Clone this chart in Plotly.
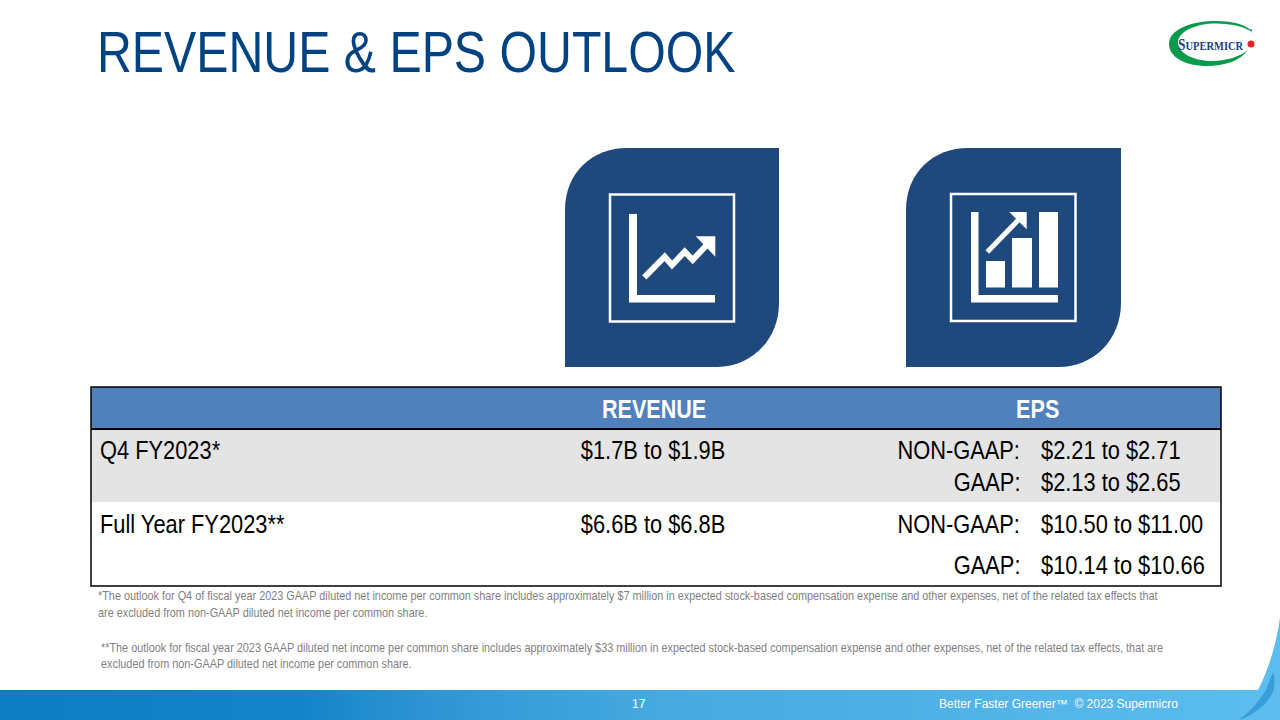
#!/usr/bin/env python3
"""Supermicro revenue & EPS outlook slide"""

import plotly.graph_objects as go

# Table content
col_headers = ['REVENUE', 'EPS']
row_labels = ['Q4 FY2023*', 'Full Year FY2023**']
revenue = ['$1.7B to $1.9B', '$6.6B to $6.8B']
eps_labels = ['NON-GAAP:', 'GAAP:', 'NON-GAAP:', 'GAAP:']
eps_values = ['$2.21 to $2.71', '$2.13 to $2.65', '$10.50 to $11.00', '$10.14 to $10.66']
footnotes = [
    '*The outlook for Q4 of fiscal year 2023 GAAP diluted net income per common share includes approximately $7 million in expected stock-based compensation expense and other expenses, net of the related tax effects that',
    'are excluded from non-GAAP diluted net income per common share.',
    '**The outlook for fiscal year 2023 GAAP diluted net income per common share includes approximately $33 million in expected stock-based compensation expense and other expenses, net of the related tax effects, that are',
    'excluded from non-GAAP diluted net income per common share.',
]

NAVY = '#1f497d'
# no narrow face installed, so these get squeezed horizontally in post_script
NARROW = 'Liberation Sans Narrow, Liberation Sans, Arial'
SQUEEZE_JS = """
document.body.style.margin = '0';
document.querySelectorAll('text.annotation-text').forEach(function (el) {
    if (!el.style.fontFamily.includes('Narrow')) return;
    var b = el.getBBox();
    var a = el.getAttribute('text-anchor');
    var px = a === 'start' ? b.x : (a === 'end' ? b.x + b.width : b.x + b.width / 2);
    el.setAttribute('transform', 'translate(' + px + ',0) scale(0.84,1) translate(' + (-px) + ',0)');
});
"""

fig = go.Figure()

# Footer band gradient
band_x = list(range(0, 1281, 8))
fig.add_trace(go.Heatmap(
    x=band_x,
    y=[690, 720],
    z=[band_x[:-1]],
    zmin=0, zmax=1280,
    colorscale=[[0, '#0c7dc1'], [0.23, '#1384c8'], [0.33, '#2f94d3'], [0.5, '#45a9df'], [1, '#5cbdee']],
    showscale=False,
    hoverinfo='skip',
))

shapes = []


def box(x0, y0, x1, y1, fill, line=None, width=0):
    shapes.append(dict(type='rect', x0=x0, y0=y0, x1=x1, y1=y1, fillcolor=fill,
                       line=dict(color=line or 'rgba(0,0,0,0)', width=width), layer='below'))


def path(d, fill, **kw):
    shapes.append(dict(type='path', path=d, fillcolor=fill, line=dict(width=0), layer='above', **kw))


def line(d, width):
    shapes.append(dict(type='path', path=d, line=dict(color='white', width=width), layer='above'))


def text(x, y, s, size, color='black', anchor='left', font=NARROW):
    fig.add_annotation(x=x, y=y, text=s, showarrow=False, xanchor=anchor, yanchor='middle', align=anchor,
                       font=dict(family=font, size=size, color=color))


# Table bands
box(91, 387, 1221, 428, '#4f81bd')
box(91, 430, 1221, 502, '#e4e4e4')
box(91, 387, 1221, 586, 'rgba(0,0,0,0)', 'black', 1.5)
box(91, 428, 1221, 430, 'black')

# Icon tiles
for x0, x1 in [(565, 779), (906, 1121)]:
    path(f'M{x0},367 L{x0},210 C{x0},172 {x0 + 28},148 {x0 + 62},148 L{x1},148 '
         f'L{x1},303 C{x1},340 {x1 - 28},367 {x1 - 62},367 Z', NAVY)

# Revenue icon
shapes.append(dict(type='rect', x0=610, y0=194.5, x1=734, y1=321.5, line=dict(color='white', width=2.5), layer='above'))
path('M629,214 L637,214 L637,295 L715,295 L715,302.5 L629,302.5 Z', 'white')
line('M644.3,277.3 L664.7,256.7 L672,265 L684.7,251.7 L692.7,260 L706.7,245', 6)
path('M695.7,236.3 L715.3,236.3 L715.3,256.7 Z', 'white')

# EPS icon
shapes.append(dict(type='rect', x0=951, y0=194, x1=1075.5, y1=321, line=dict(color='white', width=2.5), layer='above'))
path('M971,212 L978.5,212 L978.5,295 L1058,295 L1058,302.5 L971,302.5 Z', 'white')
path('M986,261 L1005,261 L1005,287.5 L986,287.5 Z', 'white')
path('M1012,238 L1032,238 L1032,287.5 L1012,287.5 Z', 'white')
path('M1039,212 L1058,212 L1058,287.5 L1039,287.5 Z', 'white')
line('M987.3,252 L1018.3,220', 5)
path('M1009.3,212 L1026.7,212 L1026.7,229.3 Z', 'white')

# Logo
path('M1169,44 C1169,29 1192,21 1216,21 C1234,21 1248,25 1253,33 C1246,27 1232,23.5 1216,23.5 '
     'C1196,23.5 1180,31 1178,41 C1177,52 1192,61 1212,61 C1226,61 1239,57 1248,50 '
     'C1240,61 1224,66 1207,66 C1185,66 1169,57 1169,44 Z', '#0a9a4b')
shapes.append(dict(type='circle', x0=1247.5, y0=40.5, x1=1254.5, y1=47.5, fillcolor='#e0242a', line=dict(width=0), layer='above'))
shapes.append(dict(type='circle', x0=1250, y0=29, x1=1252, y1=31, fillcolor='#3f6fb0', line=dict(width=0), layer='above'))
text(1176, 44, '<b><span style="font-size:16px">S</span>UPERMICR</b>', 12.5, '#1b3f83',
     font='Liberation Serif Narrow, Liberation Serif')

# Corner swoosh
path('M1280,618 C1274,660 1258,700 1236,720 L1280,720 Z', '#5cbdee')
path('M1266,690 C1258,703 1248,714 1238,720 C1252,716 1266,706 1273,692 C1275,684 1275,678 1273,672 Z',
     '#1f88c9', opacity=0.6)

# Title
text(95, 52, 'REVENUE &amp; EPS OUTLOOK', 57.5, '#004380')

# Table text
text(654, 409, f'<b>{col_headers[0]}</b>', 25.7, 'white', 'center')
text(1037, 409, f'<b>{col_headers[1]}</b>', 25.7, 'white', 'center')
for label, rev, y in zip(row_labels, revenue, [450, 524]):
    text(98, y, label, 26)
    text(653, y, rev, 26, anchor='center')
for label, value, y in zip(eps_labels, eps_values, [450, 482, 524, 565]):
    text(1022, y, label, 26, anchor='right')
    text(1039, y, value, 26)

# Footnotes
for note, x, y in zip(footnotes, [96, 96, 99, 99], [595.5, 612.5, 647.5, 663.5]):
    text(x, y, note, 12.95, '#7f7f7f')

# Footer
text(639, 704, '17', 12, 'white', 'center', 'Liberation Sans')
text(1180, 704, 'Better Faster Greener™  © 2023 Supermicro', 12, 'white', 'right', 'Liberation Sans')

fig.update_layout(
    width=1280, height=720,
    margin=dict(l=0, r=0, t=0, b=0),
    plot_bgcolor='white', paper_bgcolor='white',
    xaxis=dict(range=[0, 1280], visible=False, fixedrange=True),
    yaxis=dict(range=[720, 0], visible=False, fixedrange=True),
    shapes=shapes,
    showlegend=False,
)

fig.write_html('out.html', config={'displayModeBar': False}, post_script=SQUEEZE_JS)
